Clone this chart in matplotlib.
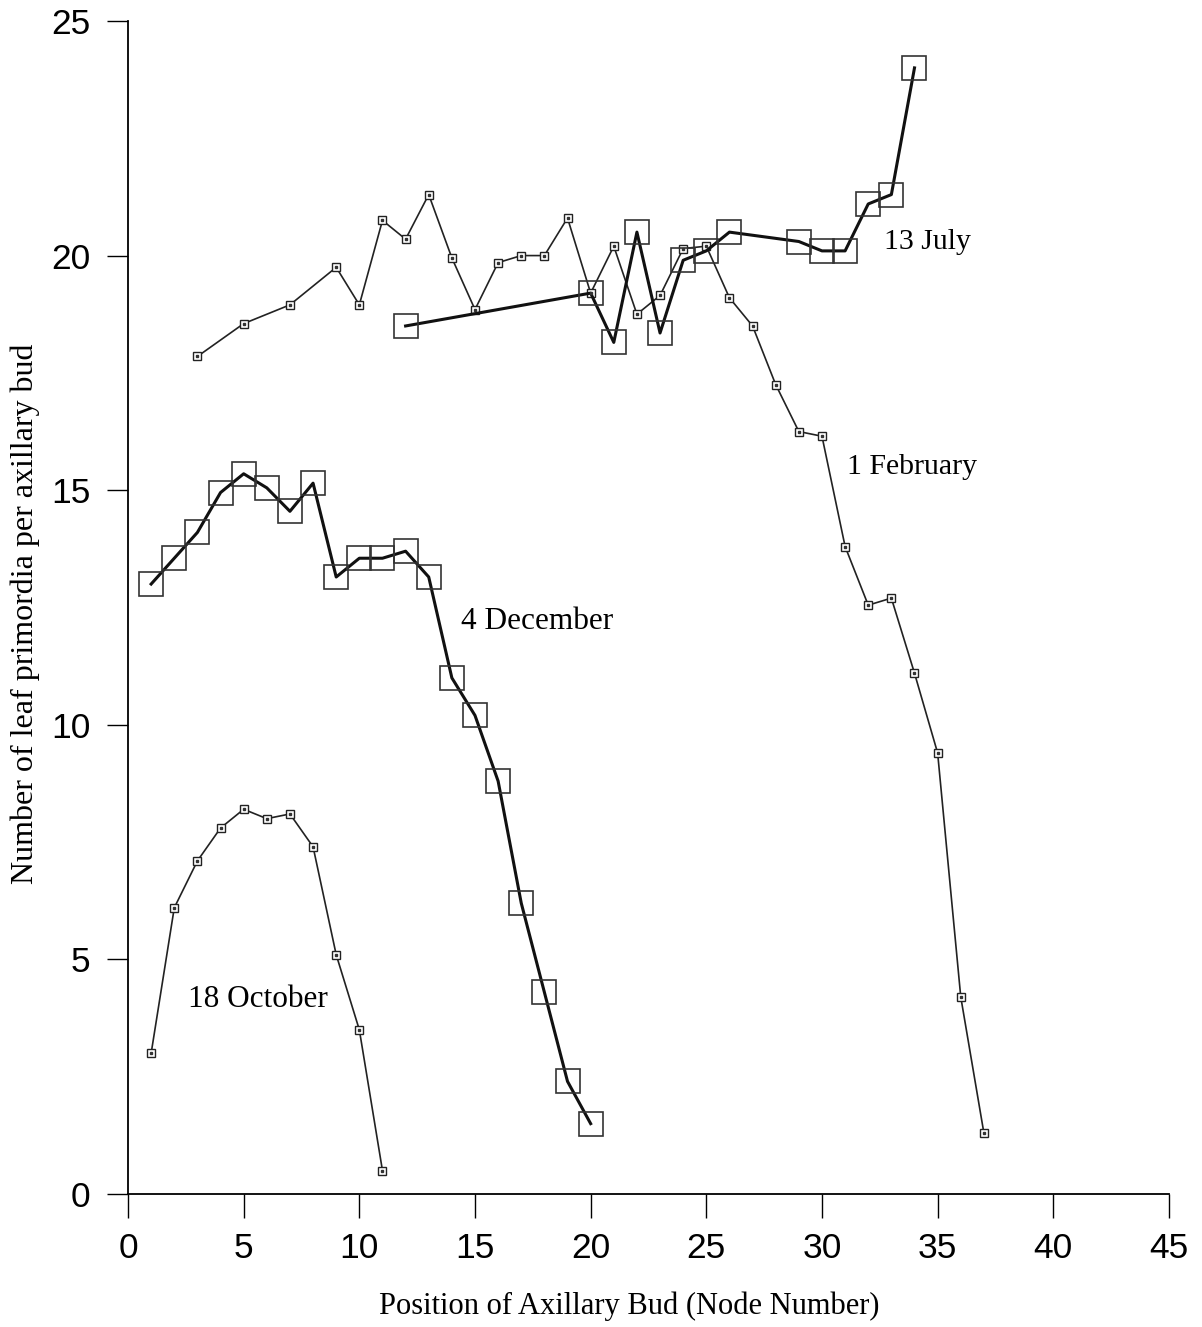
import matplotlib.pyplot as plt

# node positions and primordia counts for each sampling date
oct_nodes = [1, 2, 3, 4, 5, 6, 7, 8, 9, 10, 11]
oct_leaves = [3.0, 6.1, 7.1, 7.8, 8.2, 8.0, 8.1, 7.4, 5.1, 3.5, 0.5]

dec_nodes = list(range(1, 21))
dec_leaves = [13.0, 13.55, 14.1, 14.95, 15.35, 15.05, 14.55, 15.15, 13.15, 13.55,
              13.55, 13.7, 13.15, 11.0, 10.2, 8.8, 6.2, 4.3, 2.4, 1.5]

feb_nodes = [3, 5, 7, 9, 10, 11, 12, 13, 14, 15, 16, 17, 18, 19, 20, 21, 22,
             23, 24, 25, 26, 27, 28, 29, 30, 31, 32, 33, 34, 35, 36, 37]
feb_leaves = [17.85, 18.55, 18.95, 19.75, 18.95, 20.75, 20.35, 21.3, 19.95, 18.85,
              19.85, 20.0, 20.0, 20.8, 19.2, 20.2, 18.75, 19.15, 20.15, 20.2,
              19.1, 18.5, 17.25, 16.25, 16.15, 13.8, 12.55, 12.7, 11.1, 9.4,
              4.2, 1.3]

jul_nodes = [12, 20, 21, 22, 23, 24, 25, 26, 29, 30, 31, 32, 33, 34]
jul_leaves = [18.5, 19.2, 18.15, 20.5, 18.35, 19.9, 20.1, 20.5, 20.3, 20.1,
              20.1, 21.1, 21.3, 24.0]

fig = plt.figure(figsize=(12.02, 13.27), dpi=100)
ax = fig.add_axes([0.1065, 0.1002, 0.866, 0.884])

small = dict(color='#222222', lw=1.2, marker='s', ms=6, mfc='white',
             mec='#222222', mew=1.0)
large = dict(color='#111111', lw=2.2, marker='s', ms=17.5, mfc='none',
             mec='#333333', mew=1.2)

ax.plot(oct_nodes, oct_leaves, **small)
ax.plot(feb_nodes, feb_leaves, **small)
ax.plot(dec_nodes, dec_leaves, **large)
ax.plot(jul_nodes, jul_leaves, **large)
# tiny dot inside the small squares
for xs, ys in [(oct_nodes, oct_leaves), (feb_nodes, feb_leaves)]:
    ax.plot(xs, ys, ls='none', marker='s', ms=1.6, color='#333333')

serif = ['Liberation Serif', 'DejaVu Serif']
ax.text(32.7, 20.3, '13 July', fontsize=21.5, family=serif, va='center')
ax.text(31.1, 15.5, '1 February', fontsize=21.5, family=serif, va='center')
ax.text(14.4, 12.2, '4 December', fontsize=22.5, family=serif, va='center')
ax.text(2.6, 4.15, '18 October', fontsize=22.5, family=serif, va='center')

ax.set_xlim(0, 45)
ax.set_ylim(0, 25)
ax.set_xticks(range(0, 46, 5))
ax.set_yticks(range(0, 26, 5))
for s in ['top', 'right']:
    ax.spines[s].set_visible(False)
for s in ['left', 'bottom']:
    ax.spines[s].set_linewidth(1.3)
ax.tick_params(axis='x', length=17, width=1.0, pad=10)
ax.tick_params(axis='y', length=15, width=1.0, pad=12)
for lab in ax.get_xticklabels() + ax.get_yticklabels():
    lab.set_family(['Liberation Sans', 'DejaVu Sans'])
    lab.set_fontsize(25.5)

ax.set_xlabel('Position of Axillary Bud (Node Number)', fontsize=22,
              family=serif)
ax.set_ylabel('Number of leaf primordia per axillary bud', fontsize=23,
              family=serif)
ax.xaxis.set_label_coords(0.482, -0.083)
ax.yaxis.set_label_coords(-0.085, 0.495)

fig.savefig('out.png', dpi=100)
